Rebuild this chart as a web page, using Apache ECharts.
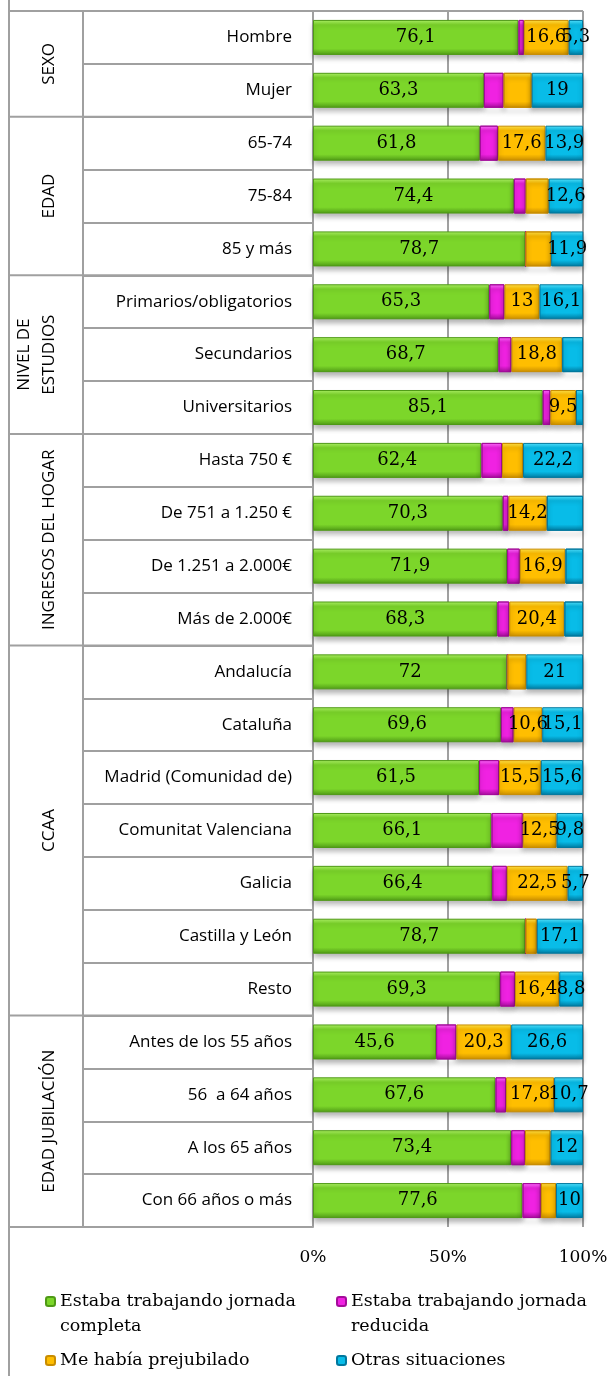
<!DOCTYPE html>
<html>
<head>
<meta charset="utf-8">
<script src="https://cdn.jsdelivr.net/npm/echarts@6.0.0/dist/echarts.min.js"></script>
<style>
  html, body { margin: 0; padding: 0; background: #fff; }
  #main { width: 612px; height: 1376px; }
</style>
</head>
<body>
<div id="main"></div>
<script>
// categorías (de arriba a abajo) y grupos
var categorias = ['Hombre', 'Mujer', '65-74', '75-84', '85 y más',
  'Primarios/obligatorios', 'Secundarios', 'Universitarios',
  'Hasta 750 €', 'De 751 a 1.250 €', 'De 1.251 a 2.000€', 'Más de 2.000€',
  'Andalucía', 'Cataluña', 'Madrid (Comunidad de)', 'Comunitat Valenciana', 'Galicia', 'Castilla y León', 'Resto',
  'Antes de los 55 años', '56  a 64 años', 'A los 65 años', 'Con 66 años o más']
var grupos = ['SEXO', 'EDAD', 'NIVEL DE\nESTUDIOS', 'INGRESOS DEL HOGAR', 'CCAA', 'EDAD JUBILACIÓN']
var filasPorGrupo = [2, 3, 3, 4, 7, 4]

var nombresSerie = ['Estaba trabajando jornada completa', 'Estaba trabajando jornada reducida',
  'Me había prejubilado', 'Otras situaciones']

var completa = [76.1, 63.3, 61.8, 74.4, 78.7, 65.3, 68.7, 85.1, 62.4, 70.3, 71.9, 68.3,
  72, 69.6, 61.5, 66.1, 66.4, 78.7, 69.3, 45.6, 67.6, 73.4, 77.6]
var reducida = [2.0, 7.3, 6.7, 4.4, 0, 5.6, 4.8, 2.8, 7.6, 2.1, 4.7, 4.4,
  0, 4.7, 7.4, 11.6, 5.4, 0, 5.5, 7.5, 3.9, 5.1, 6.8]
var prejubilado = [16.6, 10.4, 17.6, 8.5, 9.5, 13, 18.8, 9.5, 7.8, 14.2, 16.9, 20.4,
  7, 10.6, 15.5, 12.5, 22.5, 4.2, 16.4, 20.3, 17.8, 9.5, 5.6]
var otras = [5.3, 19, 13.9, 12.6, 11.9, 16.1, 7.7, 2.6, 22.2, 13.4, 6.5, 6.9,
  21, 15.1, 15.6, 9.8, 5.7, 17.1, 8.8, 26.6, 10.7, 12, 10]

// filas sin etiqueta en el original
var sinEtiquetaPrejubilado = [1, 3, 4, 8, 12, 17, 21, 22]
var sinEtiquetaOtras = [6, 7, 9, 10, 11]

var ticksX = [0, 50, 100]

var gris = '#a0a0a0'
var serif = 'DejaVu Serif'
var sans = 'Open Sans'

function degradado(claro, base, oscuro) {
  return new echarts.graphic.LinearGradient(0, 0, 0, 1, [
    {offset: 0, color: claro},
    {offset: 0.14, color: base},
    {offset: 0.82, color: base},
    {offset: 1, color: oscuro}
  ])
}

var colores = [
  ['#aef266', '#7cd62a', '#4f9a16'],
  ['#ff70ff', '#f022e2', '#a40c9a'],
  ['#ffe34a', '#ffbe00', '#c98d00'],
  ['#55e4ff', '#08bce8', '#00789e']
]

function serie(i, valores, ocultas, conEtiqueta) {
  var c = colores[i]
  return {
    name: nombresSerie[i],
    type: 'bar',
    stack: 'total',
    barWidth: 35,
    data: valores.map(function (v, k) {
      return ocultas.indexOf(k) >= 0 ? {value: v, label: {show: false}} : v
    }),
    label: {
      show: conEtiqueta,
      position: 'inside',
      color: '#000',
      fontFamily: serif,
      fontSize: 18,
      formatter: function (p) { return String(p.value).replace('.', ',') }
    },
    itemStyle: {
      color: degradado(c[0], c[1], c[2]),
      borderColor: c[2],
      borderWidth: 1,
      shadowColor: 'rgba(0,0,0,0.3)',
      shadowBlur: 5,
      shadowOffsetY: 4
    },
    emphasis: {disabled: true}
  }
}

var chart = echarts.init(document.getElementById('main'))

var leyendaTexto = {
  fontFamily: serif,
  fontSize: 17.5,
  color: '#000',
  lineHeight: 25,
  width: 255
}

chart.setOption({
  animation: false,
  grid: {left: 313, right: 29, top: 11, bottom: 149},
  xAxis: {
    type: 'value',
    min: ticksX[0],
    max: ticksX[ticksX.length - 1],
    interval: ticksX[1] - ticksX[0],
    axisLine: {show: false},
    axisTick: {show: false},
    splitLine: {show: true, lineStyle: {color: gris, width: 2}},
    axisLabel: {
      margin: 22,
      fontFamily: serif,
      fontSize: 17,
      color: '#000',
      formatter: '{value}%'
    }
  },
  yAxis: {
    type: 'category',
    data: categorias,
    inverse: true,
    axisLine: {show: true, lineStyle: {color: gris, width: 2}},
    axisTick: {show: true, length: 230, interval: 0, lineStyle: {color: gris, width: 2}},
    axisLabel: {
      margin: 21,
      fontFamily: sans,
      fontSize: 17,
      color: '#000',
      interval: 0
    }
  },
  // la primera fila de la leyenda lleva una línea vacía delante para que el icono quede junto a la primera línea
  legend: [{
    data: [nombresSerie[0], nombresSerie[1]],
    left: 45, top: 1264, padding: 0,
    itemWidth: 9, itemHeight: 9, itemGap: 21,
    formatter: function (n) { return '\n' + n.replace('jornada ', 'jornada\n') },
    textStyle: leyendaTexto
  }, {
    data: [nombresSerie[2], nombresSerie[3]],
    left: 45, top: 1348, padding: 0,
    itemWidth: 9, itemHeight: 9, itemGap: 21,
    textStyle: leyendaTexto
  }],
  series: [
    serie(0, completa, [], true),
    serie(1, reducida, [], false),
    serie(2, prejubilado, sinEtiquetaPrejubilado, true),
    serie(3, otras, sinEtiquetaOtras, true)
  ]
})

// marco de grupos a la izquierda
var xEje = chart.convertToPixel({xAxisIndex: 0}, ticksX[0])
var xFin = chart.convertToPixel({xAxisIndex: 0}, ticksX[ticksX.length - 1])
var c0 = chart.convertToPixel({yAxisIndex: 0}, categorias[0])
var c1 = chart.convertToPixel({yAxisIndex: 0}, categorias[1])
var paso = c1 - c0
var yArriba = c0 - paso / 2
var yAbajo = yArriba + paso * categorias.length

var linea = function (x1, y1, x2, y2) {
  return {type: 'line', shape: {x1: x1, y1: y1, x2: x2, y2: y2},
    style: {stroke: gris, lineWidth: 2}, silent: true}
}

var elementos = [
  linea(9, 0, 9, 1376),
  linea(83, yArriba, 83, yAbajo),
  linea(9, yArriba, xFin, yArriba)
]

var fila = 0
for (var g = 0; g < grupos.length; g++) {
  var yIni = yArriba + fila * paso
  fila += filasPorGrupo[g]
  var yFinG = yArriba + fila * paso
  elementos.push(linea(9, yFinG, xEje, yFinG))
  elementos.push({
    type: 'text',
    x: 62,
    y: (yIni + yFinG) / 2,
    rotation: Math.PI / 2,
    silent: true,
    style: {
      text: grupos[g],
      fontFamily: sans,
      fontSize: 17,
      lineHeight: 25,
      fill: '#000',
      align: 'center',
      verticalAlign: 'bottom'
    }
  })
}

chart.setOption({graphic: elementos})
</script>
</body>
</html>
